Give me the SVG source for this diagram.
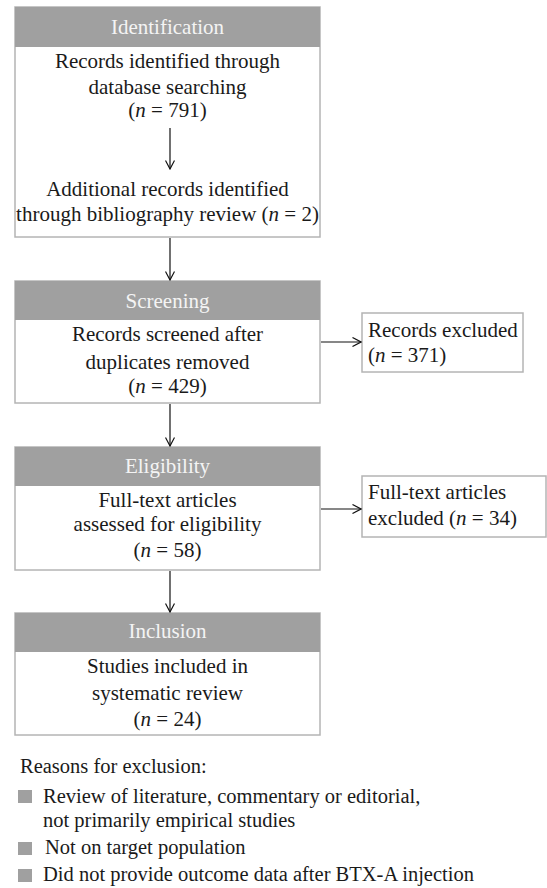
<svg xmlns="http://www.w3.org/2000/svg" width="547" height="888" viewBox="0 0 547 888">
<defs>
<style>
text{font-family:"Liberation Serif","Times New Roman",serif;font-size:21px;fill:#1a1a1a}
.c{text-anchor:middle}
.h{fill:#f4f4f4;text-anchor:middle}
.lg{font-size:20.5px}
.box{fill:#fff;stroke:#b4b4b4;stroke-width:1.5}
.hdr{fill:#a0a0a0}
.sq{fill:#a0a0a0}
.i{font-style:italic}
.ln{stroke:#111;stroke-width:1.2;fill:none}
</style>
<marker id="arr" viewBox="0 0 10 10" refX="9.5" refY="5" markerWidth="10" markerHeight="10" markerUnits="userSpaceOnUse" orient="auto">
<path d="M1,0.5 L9.5,5 L1,9.5" fill="none" stroke="#111" stroke-width="1.2"/>
</marker>
</defs>
<rect width="547" height="888" fill="#fff"/>
<g id="identification">
<rect class="box" x="15" y="7" width="305" height="230"/>
<rect class="hdr" x="15" y="7" width="305" height="40"/>
<text class="h" x="167.5" y="34">Identification</text>
<text class="c" x="167.5" y="68">Records identified through</text>
<text class="c" x="167.5" y="94">database searching</text>
<text class="c" x="167.5" y="117">(<tspan class="i">n</tspan> = 791)</text>
<text class="c" x="167.5" y="196">Additional records identified</text>
<text class="c" x="167.5" y="221">through bibliography review (<tspan class="i">n</tspan> = 2)</text>
</g>
<g id="screening">
<rect class="box" x="15" y="281" width="305" height="122"/>
<rect class="hdr" x="15" y="281" width="305" height="39"/>
<text class="h" x="167.5" y="308">Screening</text>
<text class="c" x="167.5" y="341">Records screened after</text>
<text class="c" x="167.5" y="369">duplicates removed</text>
<text class="c" x="167.5" y="393">(<tspan class="i">n</tspan> = 429)</text>
</g>
<g id="excluded1">
<rect class="box" x="362" y="313" width="161" height="59"/>
<text x="368" y="337">Records excluded</text>
<text x="368" y="362">(<tspan class="i">n</tspan> = 371)</text>
</g>
<g id="eligibility">
<rect class="box" x="15" y="447" width="305" height="123"/>
<rect class="hdr" x="15" y="447" width="305" height="39"/>
<text class="h" x="167.5" y="473">Eligibility</text>
<text class="c" x="167.5" y="507">Full-text articles</text>
<text class="c" x="167.5" y="531">assessed for eligibility</text>
<text class="c" x="167.5" y="557">(<tspan class="i">n</tspan> = 58)</text>
</g>
<g id="excluded2">
<rect class="box" x="362" y="476" width="184" height="61"/>
<text x="368" y="499">Full-text articles</text>
<text x="368" y="525">excluded (<tspan class="i">n</tspan> = 34)</text>
</g>
<g id="inclusion">
<rect class="box" x="15" y="613" width="305" height="122"/>
<rect class="hdr" x="15" y="613" width="305" height="39"/>
<text class="h" x="167.5" y="638">Inclusion</text>
<text class="c" x="167.5" y="673">Studies included in</text>
<text class="c" x="167.5" y="700">systematic review</text>
<text class="c" x="167.5" y="726">(<tspan class="i">n</tspan> = 24)</text>
</g>
<g id="connectors">
<line class="ln" x1="170" y1="128" x2="170" y2="169" marker-end="url(#arr)"/>
<line class="ln" x1="170" y1="238" x2="170" y2="280" marker-end="url(#arr)"/>
<line class="ln" x1="170" y1="404" x2="170" y2="446" marker-end="url(#arr)"/>
<line class="ln" x1="170" y1="571" x2="170" y2="612" marker-end="url(#arr)"/>
<line class="ln" x1="321" y1="342" x2="361" y2="342" marker-end="url(#arr)"/>
<line class="ln" x1="321" y1="509" x2="361" y2="509" marker-end="url(#arr)"/>
</g>
<g id="legend">
<text class="lg" x="20" y="773">Reasons for exclusion:</text>
<rect class="sq" x="18" y="790" width="14" height="13"/>
<text class="lg" x="43" y="803">Review of literature, commentary or editorial,</text>
<text class="lg" x="43" y="827">not primarily empirical studies</text>
<rect class="sq" x="18" y="842" width="14" height="13"/>
<text class="lg" x="45" y="854">Not on target population</text>
<rect class="sq" x="18" y="869" width="14" height="13"/>
<text class="lg" x="43" y="881">Did not provide outcome data after BTX-A injection</text>
</g>
</svg>
